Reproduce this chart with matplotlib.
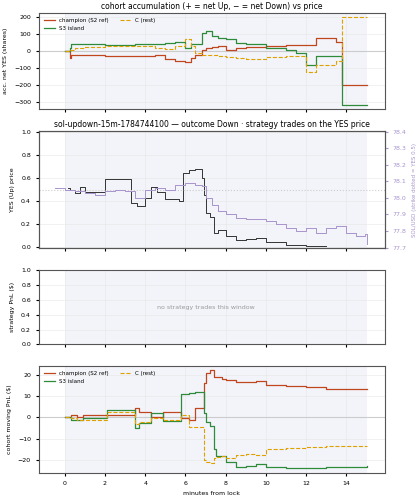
import numpy as np
import matplotlib.pyplot as plt

# cohort accumulation (shares), step series: times then values
acc_t = [0, 0.25, 0.3, 0.5, 1, 2, 3, 3.5, 4, 4.5, 5, 5.5, 6, 6.3, 6.5, 6.8, 7.0, 7.3, 7.6, 8, 8.5, 9, 10, 11, 11.5, 12, 12.5, 13, 13.5, 13.8, 15]
champ = [0, -40, -20, -20, -25, -30, -30, -30, -30, -25, -45, -60, -65, -40, -20, 10, 20, 25, 30, 10, 20, 25, 30, 35, 35, 35, 80, 80, 55, -200, -200]
island = [0, 20, 40, 45, 40, 38, 38, 40, 40, 40, 50, 55, 20, 40, 40, 110, 120, 90, 80, 70, 50, 40, 20, 10, -10, -80, -30, -30, -30, -315, -315]
rest = [0, 10, 10, 20, 25, 30, 30, 30, 30, 20, 15, 30, 70, 30, -10, -20, -25, -25, -30, -35, -40, -45, -35, -30, -30, -120, -80, -80, -60, 200, 200]

# YES price and SOL price
yes_t = [0.15, 0.25, 0.5, 0.75, 1, 1.5, 2, 3, 3.3, 3.6, 4, 4.3, 4.6, 5, 5.7, 5.9, 6.2, 6.5, 6.8, 6.9, 7.0, 7.2, 7.4, 7.6, 8, 8.5, 9, 9.5, 10, 11, 11.5, 12, 13]
yes_p = [0.51, 0.50, 0.47, 0.52, 0.48, 0.48, 0.59, 0.59, 0.38, 0.36, 0.43, 0.52, 0.48, 0.42, 0.40, 0.64, 0.67, 0.68, 0.60, 0.45, 0.30, 0.26, 0.12, 0.15, 0.10, 0.06, 0.07, 0.08, 0.05, 0.02, 0.02, 0.01, 0.01]
sol_t = [-0.5, 0, 0.5, 1, 1.5, 2, 2.5, 3, 3.5, 4, 4.5, 5, 5.5, 6, 6.5, 6.8, 7, 7.3, 7.6, 8, 8.5, 9, 9.5, 10, 10.5, 11, 11.5, 12, 12.5, 13, 13.5, 14, 14.5, 14.9, 15]
sol_p = [78.06, 78.05, 78.04, 78.03, 78.02, 78.04, 78.05, 78.04, 78.0, 78.05, 78.06, 78.05, 78.08, 78.09, 78.08, 78.07, 78.0, 77.96, 77.92, 77.90, 77.88, 77.87, 77.87, 77.86, 77.84, 77.82, 77.80, 77.82, 77.79, 77.82, 77.83, 77.79, 77.77, 77.78, 77.72]

# cohort moving PnL ($)
pnl_t = [0, 0.3, 0.6, 0.9, 2.1, 3, 3.5, 3.7, 4.3, 4.9, 5.8, 6.2, 6.5, 6.8, 6.9, 7.0, 7.2, 7.4, 7.5, 7.8, 8, 8.5, 9, 9.5, 10, 11, 12, 13, 14, 15]
champ_pnl = [0, 1, 0, 1, 1, 1, 4.5, 2.5, 0, 2.5, -0.5, -1, 4.5, 4.5, 16, 21, 22, 19, 19, 18, 17.5, 16.5, 16.5, 17, 15, 14.5, 14, 13.5, 13.3, 13.5]
island_pnl = [0, -1, -1, -0.5, 3.5, 3.5, -5, -2.5, 2, -1.5, 11, 11.5, 12, 12, 2, -2, -4, -15, -18, -18, -21, -23, -22.5, -22, -23, -23.5, -23.5, -23, -23, -22.5]
rest_pnl = [0, -0.5, -1, -1, 2.5, 2.5, -3, -2, -0.5, -1, 1, -4.5, -4.5, -4.5, -20, -21, -21.5, -19, -18.5, -18, -19, -17.5, -17, -17.5, -15, -14.5, -14, -13.5, -13.5, -13.5]

C_CH, C_IS, C_RE, C_SOL = '#c0461e', '#2e8b3a', '#e0a000', '#a894cc'

plt.rcParams.update({'font.size': 4.5, 'axes.edgecolor': '#555555', 'axes.linewidth': 0.8,
                     'xtick.major.size': 2, 'ytick.major.size': 2})
fig, axes = plt.subplots(4, 1, figsize=(4.19, 5), dpi=100, sharex=True,
                         gridspec_kw=dict(height_ratios=[97, 119, 75, 108]))
fig.subplots_adjust(left=0.092, right=0.918, top=0.974, bottom=0.054, hspace=0.22)

for ax in axes:
    ax.axvspan(0, 15, color='#eef0f8', alpha=0.7, lw=0, zorder=0)
    ax.grid(True, color='#e6e6e6', lw=0.4)
    ax.set_xlim(-1.3, 15.9)

ax = axes[0]
ax.axhline(0, color='#cccccc', lw=0.8)
ax.step(acc_t, champ, where='post', color=C_CH, lw=0.9, label='champion (S2 ref)')
ax.step(acc_t, island, where='post', color=C_IS, lw=0.9, label='S3 island')
ax.step(acc_t, rest, where='post', color=C_RE, lw=0.8, ls='--', label='C (rest)')
ax.set_ylim(-340, 225)
ax.set_yticks([-300, -200, -100, 0, 100, 200])
ax.set_ylabel('acc. net YES (shares)')
ax.set_title('cohort accumulation (+ = net Up, − = net Down) vs price', fontsize=5.5, pad=3)
ax.legend(loc='upper left', ncol=2, fontsize=4, frameon=False)

ax = axes[1]
ax.step(yes_t, yes_p, where='post', color='#333333', lw=0.7)
ax.axhline(0.5, color='#cccccc', lw=0.8, ls=':')
ax.set_ylim(-0.01, 1.01)
ax.set_ylabel('YES (Up) price')
ax.set_title('sol-updown-15m-1784744100 — outcome Down · strategy trades on the YES price', fontsize=5.5, pad=3)
ax2 = ax.twinx()
ax2.step(sol_t, sol_p, where='post', color=C_SOL, lw=0.7)
ax2.set_ylim(77.695, 78.405)
ax2.tick_params(axis='y', colors=C_SOL)
ax2.set_ylabel('SOL/USD (strike dotted = YES 0.5)', color=C_SOL, fontsize=4)

ax = axes[2]
ax.set_ylim(0, 1)
ax.set_ylabel('strategy PnL ($)')
ax.text(7, 0.5, 'no strategy trades this window', ha='center', va='center', color='#999999', fontsize=4.5)

ax = axes[3]
ax.axhline(0, color='#cccccc', lw=0.8)
ax.step(pnl_t, champ_pnl, where='post', color=C_CH, lw=0.9, label='champion (S2 ref)')
ax.step(pnl_t, island_pnl, where='post', color=C_IS, lw=0.9, label='S3 island')
ax.step(pnl_t, rest_pnl, where='post', color=C_RE, lw=0.8, ls='--', label='C (rest)')
ax.set_ylim(-26, 24)
ax.set_ylabel('cohort moving PnL ($)')
ax.set_xlabel('minutes from lock')
ax.set_xticks([0, 2, 4, 6, 8, 10, 12, 14])
ax.legend(loc='upper left', ncol=2, fontsize=4, frameon=False)

fig.savefig('out.png', dpi=100)
